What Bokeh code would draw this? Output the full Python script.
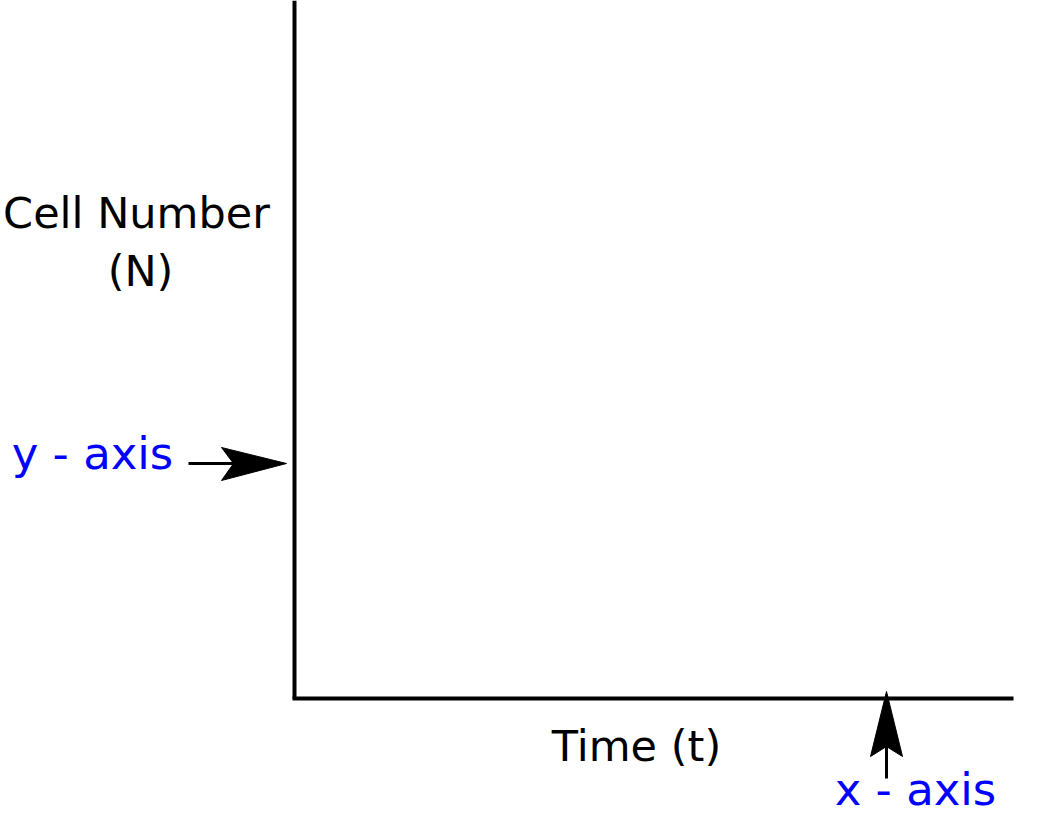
from bokeh.plotting import figure
from bokeh.models import Range1d, ColumnDataSource
from bokeh.core.properties import value
from bokeh.embed import file_html
from bokeh.resources import INLINE

# Diagram content (image pixel coordinates)
axis_titles = ["Cell Number", "(N)", "Time (t)"]
axis_title_x = [136, 140, 636]
axis_title_y = [212, 270, 745]

annot_labels = ["y - axis", "x - axis"]
annot_x = [92, 915]
annot_y = [453, 789]

# axis lines
axes_xs = [[294, 294], [292, 1013]]
axes_ys = [[0, 698], [698, 698]]

# arrow shafts
shaft_xs = [[188, 236], [886, 886]]
shaft_ys = [[463, 463], [778, 745]]
# arrow heads
head_xs = [[286, 221, 233, 221], [886, 870, 886, 902]]
head_ys = [[463, 447, 463, 480], [691, 756, 746, 756]]

p = figure(width=1028, height=818, output_backend="svg", toolbar_location=None,
           x_range=Range1d(0, 1028), y_range=Range1d(818, 0),
           min_border=0, outline_line_color=None)
p.axis.visible = False
p.grid.visible = False
p.background_fill_color = "white"

p.multi_line(xs=axes_xs, ys=axes_ys, line_color="black", line_width=4)
p.multi_line(xs=shaft_xs, ys=shaft_ys, line_color="black", line_width=3)
p.patches(xs=head_xs, ys=head_ys, fill_color="black", line_color="black", line_width=1)

src1 = ColumnDataSource(dict(x=axis_title_x, y=axis_title_y, t=axis_titles))
p.text(x="x", y="y", text="t", source=src1, text_font=value("DejaVu Sans"),
       text_font_size="43px", text_color="black", text_align="center",
       text_baseline="alphabetic")

src2 = ColumnDataSource(dict(x=annot_x, y=annot_y, t=annot_labels))
p.text(x="x", y="y", text="t", source=src2, text_font=value("DejaVu Sans"),
       text_font_size="45px", text_color="#0000FF", text_align="center",
       text_baseline="alphabetic")

open("out.html", "w").write(file_html(p, INLINE))
